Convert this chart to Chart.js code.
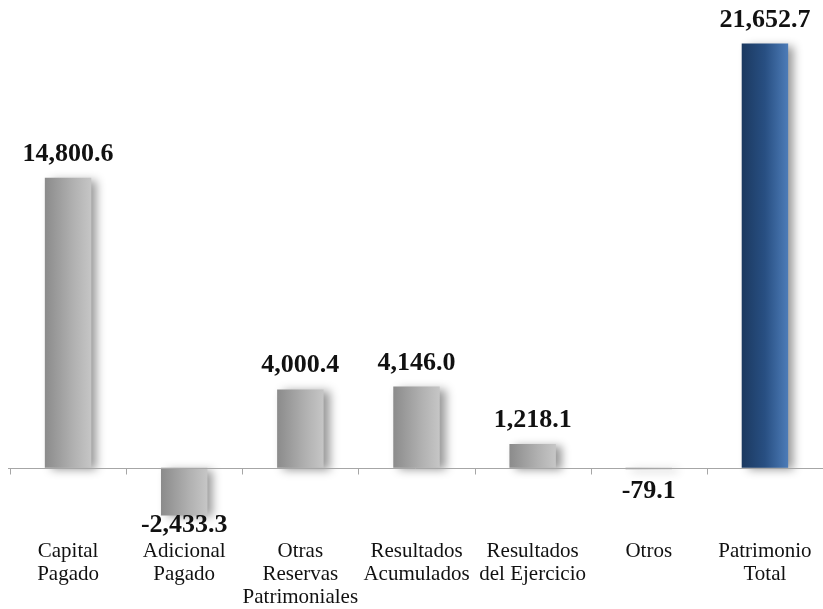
<!DOCTYPE html>
<html>
<head>
<meta charset="utf-8">
<script src="https://cdn.jsdelivr.net/npm/chart.js@4.4.0/dist/chart.umd.min.js"></script>
<style>
  html, body { margin: 0; padding: 0; background: #fff; overflow: hidden; }
  #wrap { width: 823px; height: 609px; position: relative; }
</style>
</head>
<body>
<div id="wrap"><canvas id="chart"></canvas></div>
<script>
const categories = [
  ["Capital", "Pagado"],
  ["Adicional", "Pagado"],
  ["Otras", "Reservas", "Patrimoniales"],
  ["Resultados", "Acumulados"],
  ["Resultados", "del Ejercicio"],
  ["Otros"],
  ["Patrimonio", "Total"]
];
const values = [14800.6, -2433.3, 4000.4, 4146.0, 1218.1, -79.1, 21652.7];
// last bar is the total, drawn in blue
const isTotal = [false, false, false, false, false, false, true];

const SERIF = "'Liberation Serif', 'Times New Roman', Tinos, serif";

function barGradient(context) {
  const chart = context.chart;
  const x = chart.scales.x;
  const fallback = isTotal[context.dataIndex] ? "#2a5185" : "#a6a6a6";
  if (!x || context.dataIndex === undefined) return fallback;
  const center = x.getPixelForValue(context.dataIndex);
  const half = x.width / categories.length * 0.4 / 2;
  if (!isFinite(center) || !isFinite(half) || half <= 0) return fallback;
  const g = chart.ctx.createLinearGradient(center - half, 0, center + half, 0);
  if (isTotal[context.dataIndex]) {
    g.addColorStop(0, "#1b3960");
    g.addColorStop(0.5, "#284f82");
    g.addColorStop(1, "#4d7cb8");
  } else {
    g.addColorStop(0, "#8b8b8b");
    g.addColorStop(0.6, "#b0b0b0");
    g.addColorStop(1, "#c6c6c6");
  }
  return g;
}

// soft shadow behind the bars
const shadowPlugin = {
  id: "shadow",
  beforeDatasetsDraw(chart) {
    const ctx = chart.ctx;
    ctx.save();
    ctx.shadowColor = "rgba(0,0,0,0.4)";
    ctx.shadowBlur = 9;
    ctx.shadowOffsetX = 6;
    ctx.shadowOffsetY = 2;
  },
  afterDatasetsDraw(chart) {
    chart.ctx.restore();
  }
};

// zero axis line with category tick marks
const zeroAxisPlugin = {
  id: "zeroAxis",
  afterDatasetsDraw(chart) {
    const ctx = chart.ctx;
    const x = chart.scales.x, y = chart.scales.y;
    const y0 = Math.round(y.getPixelForValue(0)) + 0.5;
    const step = x.width / categories.length;
    ctx.save();
    ctx.strokeStyle = "#a6a6a6";
    ctx.lineWidth = 1;
    ctx.beginPath();
    ctx.moveTo(x.left - 2, y0);
    ctx.lineTo(chart.width, y0);
    for (let i = 0; i <= categories.length; i++) {
      const px = Math.round(x.left + i * step) + 0.5;
      ctx.moveTo(px, y0);
      ctx.lineTo(px, y0 + 6);
    }
    ctx.stroke();
    ctx.restore();
  }
};

// value labels above / below the bars
const valueLabelPlugin = {
  id: "valueLabels",
  afterDraw(chart) {
    const ctx = chart.ctx;
    const meta = chart.getDatasetMeta(0);
    const y0 = chart.scales.y.getPixelForValue(0);
    ctx.save();
    ctx.font = "bold 26px " + SERIF;
    ctx.fillStyle = "#111";
    ctx.textAlign = "center";
    ctx.textBaseline = "alphabetic";
    meta.data.forEach((bar, i) => {
      const v = values[i];
      const txt = v.toLocaleString("en-US", { minimumFractionDigits: 1, maximumFractionDigits: 1 });
      let base;
      if (v >= 0) {
        base = bar.y - 17;
      } else {
        base = Math.max(bar.y + 17, y0 + 30);
      }
      ctx.fillText(txt, bar.x, base);
    });
    ctx.restore();
  }
};

new Chart(document.getElementById("chart"), {
  type: "bar",
  data: {
    labels: categories,
    datasets: [{
      data: values,
      backgroundColor: barGradient,
      borderWidth: 0,
      barPercentage: 0.4,
      categoryPercentage: 1.0
    }]
  },
  options: {
    responsive: true,
    maintainAspectRatio: false,
    animation: false,
    layout: {
      padding: { top: 27, left: 10, right: 0, bottom: 0 }
    },
    plugins: {
      legend: { display: false },
      tooltip: { enabled: false }
    },
    scales: {
      x: {
        grid: { display: false, drawTicks: false },
        border: { display: false },
        ticks: {
          color: "#111",
          padding: 0,
          maxRotation: 0,
          autoSkip: false,
          font: { family: SERIF, size: 21, lineHeight: 1.1 }
        }
      },
      y: {
        display: false,
        min: -3670,
        max: 22500
      }
    }
  },
  plugins: [shadowPlugin, zeroAxisPlugin, valueLabelPlugin]
});
</script>
</body>
</html>
